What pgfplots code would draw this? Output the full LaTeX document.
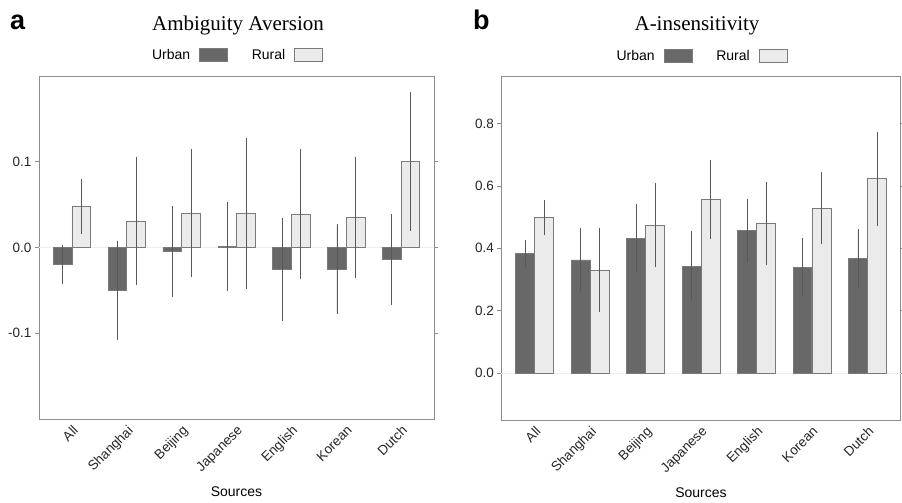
\documentclass[border=0pt]{standalone}
\usepackage{pgfplots}
\usepackage{pgfplotstable}
\pgfplotsset{compat=1.18}
\usepackage{fontspec}
\setmainfont{Liberation Sans}
\newfontfamily\seriffont{Liberation Serif}
\definecolor{urbanc}{HTML}{686868}
\definecolor{ruralc}{HTML}{EBEBEB}
\definecolor{edgec}{HTML}{7A7A7A}
\definecolor{errc}{HTML}{585858}
\definecolor{axisc}{HTML}{8C8C8C}
\definecolor{zeroc}{HTML}{EEEEEE}

\pgfplotstableread{
x uy ue ry re
0 -0.020 0.021 0.048 0.030
1 -0.050 0.056 0.031 0.073
2 -0.005 0.051 0.040 0.073
3 0.001 0.050 0.040 0.086
4 -0.026 0.058 0.039 0.074
5 -0.025 0.051 0.035 0.069
6 -0.014 0.051 0.100 0.079
}\ambig

\pgfplotstableread{
x uy ue ry re
0 0.384 0.038 0.499 0.052
1 0.363 0.096 0.331 0.129
2 0.433 0.103 0.474 0.130
3 0.342 0.107 0.556 0.122
4 0.458 0.096 0.480 0.129
5 0.340 0.089 0.529 0.110
6 0.367 0.090 0.623 0.146
}\ains

\pgfplotsset{
  panel/.style={
    scale only axis,
    anchor=south west,
    ybar,
    bar width=0.34,
    xmin=-0.6, xmax=6.6,
    xtick={0,1,2,3,4,5,6},
    xticklabels={All,Shanghai,Beijing,Japanese,English,Korean,Dutch},
    x tick label style={rotate=45, anchor=north east, inner sep=1pt, font=\fontsize{13.5}{15}\selectfont, text=black!85},
    y tick label style={font=\fontsize{13.5}{15}\selectfont, text=black!85},
    xtick style={draw=none},
    ytick pos=both,
    tick align=outside,
    major tick length=4pt,
    ytick style={draw=axisc, line width=0.6pt},
    axis line style={draw=axisc, line width=0.8pt},
    extra y ticks={0},
    extra y tick labels={},
    extra y tick style={grid=major, major grid style={draw=zeroc, line width=0.8pt}, major tick length=0pt},
    xlabel={Sources},
    xlabel style={at={(axis description cs:0.5,0)}, anchor=base, yshift=-78pt, font=\fontsize{14}{16}\selectfont},
    legend plot pos=right,
    legend columns=-1,
    legend style={at={(0.5,1)}, anchor=center, yshift=21pt, draw=none, fill=none,
      font=\fontsize{14}{16}\selectfont, inner sep=0pt,
      /tikz/every odd column/.append style={column sep=7pt},
      /tikz/every even column/.append style={column sep=22pt}},
    error bars/y dir=both,
    error bars/y explicit,
    error bars/error bar style={draw=errc, line width=0.6pt},
    error bars/error mark options={draw=errc, mark size=1.6pt, line width=0.6pt},
  },
  ubar/.style={fill=urbanc, draw=edgec, line width=0.6pt, bar shift=-0.17,
    legend image code/.code={\draw[fill=urbanc, draw=edgec, line width=0.6pt] (0pt,-6.5pt) rectangle (28pt,6.5pt);}},
  rbar/.style={fill=ruralc, draw=edgec, line width=0.6pt, bar shift=0.17,
    legend image code/.code={\draw[fill=ruralc, draw=edgec, line width=0.6pt] (0pt,-6.5pt) rectangle (28pt,6.5pt);}},
}

\begin{document}
\begin{tikzpicture}
\useasboundingbox (0pt,0pt) rectangle (902pt,503pt);

\begin{axis}[panel,
  at={(39pt,84pt)}, width=395pt, height=343pt,
  ymin=-0.2, ymax=0.2,
  ytick={-0.1,0,0.1},
  yticklabels={-0.1,0.0,0.1},
]
\addplot[ubar] table[x=x, y=uy, y error=ue] {\ambig};
\addlegendentry{Urban}
\addplot[rbar] table[x=x, y=ry, y error=re] {\ambig};
\addlegendentry{Rural}
\end{axis}

\begin{axis}[panel,
  at={(501.3pt,83pt)}, width=399.4pt, height=343.3pt,
  ymin=-0.15, ymax=0.95,
  ytick={0,0.2,0.4,0.6,0.8},
  yticklabels={0.0,0.2,0.4,0.6,0.8},
]
\addplot[ubar] table[x=x, y=uy, y error=ue] {\ains};
\addlegendentry{Urban}
\addplot[rbar] table[x=x, y=ry, y error=re] {\ains};
\addlegendentry{Rural}
\end{axis}

\node[anchor=base, font=\seriffont\fontsize{21}{24}\selectfont] at (238pt,472.5pt) {Ambiguity Aversion};
\node[anchor=base, font=\seriffont\fontsize{21}{24}\selectfont] at (697pt,472.5pt) {A-insensitivity};
\node[anchor=base west, inner sep=0pt, font=\bfseries\fontsize{27}{30}\selectfont] at (10pt,473pt) {a};
\node[anchor=base west, inner sep=0pt, font=\bfseries\fontsize{27}{30}\selectfont] at (473pt,473pt) {b};
\end{tikzpicture}
\end{document}
